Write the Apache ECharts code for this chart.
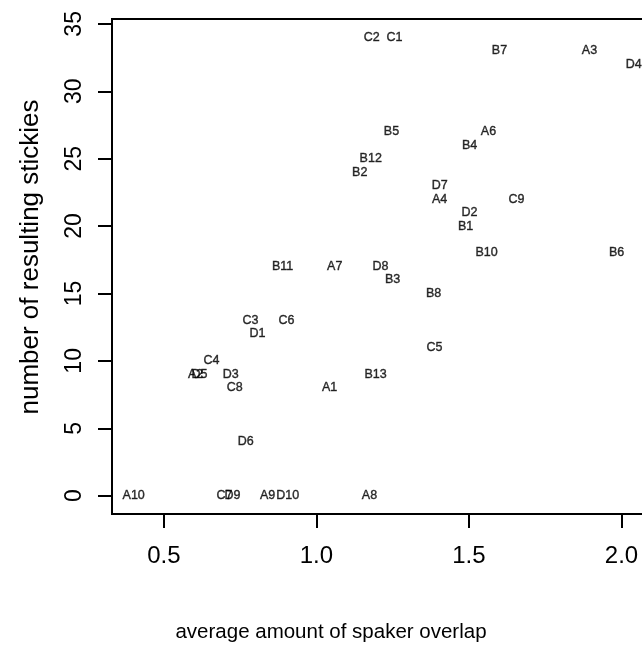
<!DOCTYPE html>
<html>
<head>
<meta charset="utf-8">
<script src="https://cdn.jsdelivr.net/npm/echarts@6/dist/echarts.min.js"></script>
<style>
html,body{margin:0;padding:0;background:#fff;overflow:hidden;}
#chart{width:680px;height:646px;}
</style>
</head>
<body>
<div id="chart"></div>
<script>
var names = ["C2","C1","B7","A3","D4","B5","A6","B4","B12","B2","D7","A4","C9","D2","B1","B10","B6","B11","A7","D8","B3","B8","C3","C6","D1","C5","C4","A2","D5","D3","B13","C8","A1","D6","A10","C7","D9","A9","D10","A8"];
var overlap = [1.181,1.256,1.600,1.895,2.040,1.246,1.564,1.502,1.178,1.142,1.404,1.404,1.656,1.502,1.489,1.558,1.984,0.889,1.060,1.210,1.250,1.384,0.784,0.902,0.807,1.387,0.656,0.604,0.617,0.719,1.194,0.732,1.043,0.768,0.401,0.699,0.725,0.840,0.906,1.174];
var stickies = [34,34,33,33,32,27,27,26,25,24,23,22,22,21,20,18,18,17,17,17,16,15,13,13,12,11,10,9,9,9,9,8,8,4,0,0,0,0,0,0];
var xTicks = [0.5,1.0,1.5,2.0];
var yTicks = [0,5,10,15,20,25,30,35];
var xTitle = "average amount of spaker overlap";
var yTitle = "number of resulting stickies";

var FONT = "'Liberation Sans', Arial, Helvetica, sans-serif";
var chart = echarts.init(document.getElementById('chart'), null, {renderer:'canvas'});
var pts = names.map(function(n,i){ return {name:n, value:[overlap[i], stickies[i]]}; });

chart.setOption({
  animation:false,
  backgroundColor:'#fff',
  grid:{left:112, top:19, width:540, height:495, show:true, borderColor:'#000', borderWidth:2, backgroundColor:'transparent'},
  xAxis:{
    type:'value', min:0.33, max:2.10,
    axisLine:{show:false, onZero:false},
    splitLine:{show:false},
    axisTick:{show:true, customValues:xTicks, length:14, inside:false, lineStyle:{color:'#000', width:2}},
    axisLabel:{show:true, customValues:xTicks, margin:30, fontSize:24, fontFamily:FONT, color:'#000',
      formatter:function(v){return Number(v).toFixed(1);}}
  },
  yAxis:{
    type:'value', min:-1.36, max:35.36,
    axisLine:{show:false, onZero:false},
    splitLine:{show:false},
    axisTick:{show:true, customValues:yTicks, length:14, inside:false, lineStyle:{color:'#000', width:2}},
    axisLabel:{show:true, customValues:yTicks, rotate:90, margin:26, fontSize:23, fontFamily:FONT, color:'#000'}
  },
  graphic:[
    {type:'text', x:331, y:632, style:{text:xTitle, font:'20.5px '+FONT, fill:'#000', align:'center', verticalAlign:'middle'}},
    {type:'text', x:31, y:257, rotation:Math.PI/2, style:{text:yTitle, font:'26px '+FONT, fill:'#000', align:'center', verticalAlign:'middle'}}
  ],
  series:[{
    type:'scatter',
    data:pts,
    symbolSize:0,
    silent:true,
    label:{show:true, position:'inside', formatter:'{b}', fontSize:12.5, fontFamily:FONT, color:'#000', textBorderColor:'#000', textBorderWidth:0.4},
    labelLayout:{hideOverlap:false}
  }]
});
</script>
</body>
</html>
